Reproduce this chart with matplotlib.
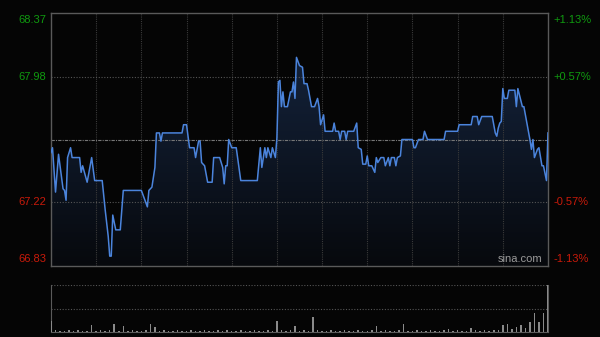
import matplotlib
matplotlib.use("Agg")
from matplotlib import pyplot as plt
from matplotlib.colors import LinearSegmentedColormap
import numpy as np

plt.rcParams['font.family'] = ['Liberation Sans', 'DejaVu Sans']

# intraday price (minute from open, price)
minutes = [0, 1, 3, 5, 8, 9, 10, 11, 13, 14, 19, 20, 21, 24, 27, 29, 34, 36, 38, 39,
           40, 41, 43, 46, 48, 60, 62, 64, 65, 67, 69, 70, 72, 73, 74, 87, 88, 90, 92, 95,
           96, 98, 99, 100, 102, 104, 107, 108, 112, 114, 115, 116, 117, 118, 120, 123, 126, 137, 139, 140,
           142, 143, 144, 146, 147, 149, 150, 151, 152, 153, 154, 155, 157, 159, 160, 161, 162, 163, 165, 167,
           168, 170, 171, 173, 175, 177, 178, 179, 181, 182, 187, 188, 189, 191, 192, 193, 195, 196, 197, 201,
           203, 204, 206, 207, 209, 210, 211, 213, 215, 216, 217, 219, 221, 222, 224, 225, 226, 228, 229, 230,
           232, 233, 240, 241, 242, 244, 247, 248, 250, 261, 262, 270, 271, 279, 280, 283, 284, 286, 293, 295,
           296, 297, 298, 299, 300, 301, 303, 304, 308, 309, 310, 313, 314, 316, 317, 318, 319, 320, 321, 323,
           324, 326, 327, 329, 330]
prices = [67.52, 67.55, 67.28, 67.51, 67.30, 67.29, 67.23, 67.49, 67.55, 67.49, 67.49, 67.40, 67.44, 67.34, 67.49, 67.35, 67.35, 67.17, 67.01, 66.89,
          66.89, 67.14, 67.05, 67.05, 67.29, 67.29, 67.24, 67.19, 67.29, 67.31, 67.43, 67.64, 67.64, 67.59, 67.64, 67.64, 67.69, 67.69, 67.55, 67.55,
          67.49, 67.59, 67.59, 67.46, 67.44, 67.34, 67.34, 67.49, 67.49, 67.43, 67.33, 67.44, 67.44, 67.60, 67.55, 67.55, 67.35, 67.35, 67.55, 67.43,
          67.55, 67.49, 67.55, 67.49, 67.55, 67.49, 67.61, 67.95, 67.96, 67.80, 67.89, 67.80, 67.80, 67.89, 67.89, 67.95, 67.85, 68.10, 68.05, 68.04,
          67.94, 67.94, 67.90, 67.80, 67.80, 67.85, 67.80, 67.69, 67.75, 67.65, 67.65, 67.70, 67.65, 67.65, 67.60, 67.65, 67.65, 67.60, 67.65, 67.65,
          67.70, 67.55, 67.54, 67.45, 67.45, 67.50, 67.44, 67.44, 67.40, 67.49, 67.46, 67.49, 67.49, 67.44, 67.49, 67.44, 67.49, 67.49, 67.44, 67.49,
          67.50, 67.60, 67.60, 67.55, 67.55, 67.60, 67.60, 67.65, 67.60, 67.60, 67.65, 67.65, 67.69, 67.69, 67.74, 67.74, 67.69, 67.74, 67.74, 67.64,
          67.62, 67.67, 67.70, 67.71, 67.91, 67.85, 67.85, 67.90, 67.90, 67.80, 67.91, 67.80, 67.80, 67.70, 67.65, 67.60, 67.54, 67.60, 67.49, 67.54,
          67.55, 67.44, 67.44, 67.35, 67.64]

# volume every 3 minutes (relative units)
vol_minutes = list(range(0, 331, 3))
volumes = [23, 4, 3, 3, 5, 3, 4, 3, 3, 15, 3, 4, 3, 4, 17, 3, 13, 3, 4, 3,
           3, 4, 17, 11, 3, 4, 3, 3, 5, 3, 3, 4, 3, 3, 4, 3, 3, 5, 3, 4,
           3, 3, 4, 3, 3, 5, 3, 3, 4, 3, 23, 4, 3, 4, 13, 3, 4, 3, 32, 4,
           3, 3, 4, 3, 3, 4, 3, 3, 4, 3, 3, 4, 13, 3, 4, 3, 3, 4, 17, 3,
           3, 4, 3, 3, 4, 3, 3, 4, 6, 3, 4, 3, 3, 9, 4, 3, 4, 3, 5, 4,
           15, 17, 6, 11, 15, 8, 21, 40, 21, 40, 100]

prev_close = 67.60
y_min, y_max = 66.83, 68.37
left_ticks = [66.83, 67.22, 67.98, 68.37]
right_labels = ['-1.13%', '-0.57%', '+0.57%', '+1.13%']

bg = '#050505'
fig = plt.figure(figsize=(6, 3.37), dpi=100, facecolor=bg)
ax = fig.add_axes([0.085, 0.2107, 0.8283, 0.7507], facecolor=bg)
axv = fig.add_axes([0.085, 0.0148, 0.8283, 0.1395], facecolor=bg)

# price panel
ax.set_xlim(0, 330)
ax.set_ylim(y_min, y_max)
poly = ax.fill_between(minutes, prices, y_min, facecolor='none', edgecolor='none')
cmap = LinearSegmentedColormap.from_list('fill', ['#07090d', '#162743'])
grad = np.linspace(0, 1, 256).reshape(-1, 1)
im = ax.imshow(grad, extent=[0, 330, y_min, y_max], origin='lower', aspect='auto',
               cmap=cmap, zorder=1)
im.set_clip_path(poly.get_paths()[0], transform=ax.transData)
ax.plot(minutes, prices, color='#4b84dc', lw=1.1, zorder=3)

for m in range(30, 330, 30):
    ax.axvline(m, color='#3a3a3a', lw=0.8, ls=(0, (1, 1)), zorder=2)
for v in [67.22, 67.98]:
    ax.axhline(v, color='#555555', lw=0.8, ls=(0, (1, 1.5)), zorder=2)
ax.axhline(prev_close, color='#777777', lw=0.8, ls=(0, (3, 1, 1, 1)), zorder=2)

for s in ax.spines.values():
    s.set_color('#5a5a5a')
    s.set_linewidth(1)
ax.set_xticks([])
ax.set_yticks([])

for i, v in enumerate(left_ticks):
    col = '#0f9a0f' if v > prev_close else '#c81a0a'
    va = 'bottom' if i == 0 else ('top' if i == 3 else 'center')
    yy = v + (0.01 if i == 0 else (-0.01 if i == 3 else 0))
    ax.text(-3, yy, f'{v:.2f}', color=col, fontsize=8, ha='right', va=va, clip_on=False)
    ax.text(3.5 + 330, yy, right_labels[i], color=col, fontsize=8, ha='left', va=va, clip_on=False)

ax.text(326, y_min + 0.01, 'sina.com', color='#9a9a9a', fontsize=8, ha='right', va='bottom', zorder=4)

# volume panel
axv.bar(vol_minutes, volumes, width=1.0, color='#8a8a8a', zorder=3)
axv.set_xlim(0, 330)
axv.set_ylim(0, 100)
axv.axhline(50, color='#555555', lw=0.8, ls=(0, (1, 1.5)))
axv.axhline(100, color='#555555', lw=0.8, ls=(0, (1, 1.5)))
axv.spines['top'].set_visible(False)
for k in ['left', 'right', 'bottom']:
    axv.spines[k].set_color('#5a5a5a')
axv.set_xticks([])
axv.set_yticks([])

plt.savefig('out.png', dpi=100, facecolor=bg)
